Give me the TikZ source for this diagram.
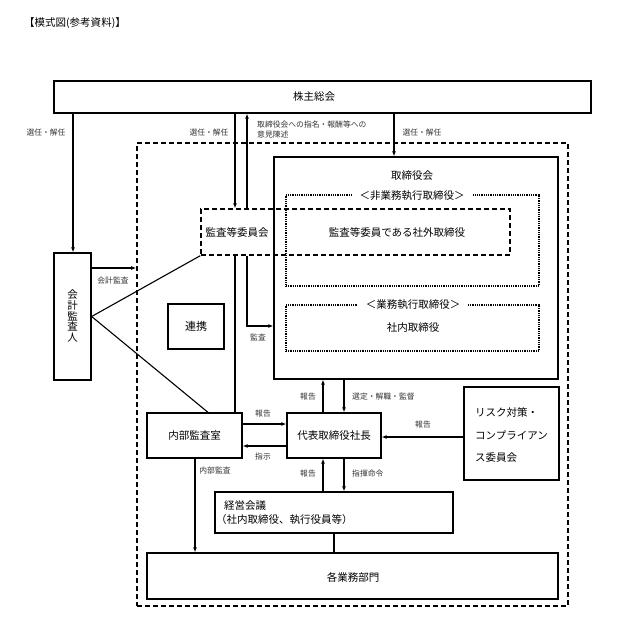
\documentclass[tikz,border=0pt]{standalone}
\usepackage{fontspec}
\setmainfont{Noto Sans CJK JP}
\usetikzlibrary{arrows.meta,calc}
\begin{document}
\begin{tikzpicture}[x=1pt,y=-1pt,
  box/.style={draw,line width=1.3pt,inner sep=0pt},
  txt/.style={inner sep=0pt,font=\fontsize{10.5}{12}\selectfont},
  lbl/.style={inner sep=0pt,font=\fontsize{7.8}{9.5}\selectfont,text=black!80},
  ln/.style={line width=1.1pt},
  arr/.style={line width=1.1pt,-{Latex[length=5pt,width=4pt]}},
  bigdash/.style={draw,line width=1.7pt,dash pattern=on 5pt off 3pt,inner sep=0pt},
  meddash/.style={draw,line width=1.4pt,dash pattern=on 5pt off 3pt,inner sep=0pt},
  dotbox/.style={draw,line width=1.2pt,dash pattern=on 1pt off 0.8pt,inner sep=0pt},
]
\useasboundingbox (0,0) rectangle (617,639);
\fill[white] (0,0) rectangle (617,639);

\node[txt,anchor=west] (title) at (24,23) {【模式図(参考資料)】};

% boxes
\node[box,minimum width=537pt,minimum height=32pt] (sh) at (322.5,97) {};
\node[txt] (shT) at (314,97) {株主総会};

\node[box,minimum width=37pt,minimum height=127pt] (aud) at (72.5,316.5) {};
\node[txt,align=center,font=\fontsize{10.5}{10.8}\selectfont] (audT) at (72.5,316) {会\\計\\監\\査\\人};

\node[bigdash,minimum width=431pt,minimum height=463pt] (grp) at (352.5,374.5) {};

\node[box,minimum width=284pt,minimum height=222pt] (board) at (416,268) {};
\node[txt] (boardT) at (412,176) {取締役会};

\node[dotbox,minimum width=253pt,minimum height=91pt] (nonexec) at (412.5,240.5) {};
\node[txt,fill=white,inner xsep=8pt,inner ysep=1pt] (nonexecT) at (412,196) {＜非業務執行取締役＞};

\node[dotbox,minimum width=253pt,minimum height=46pt] (exec) at (412.5,328) {};
\node[txt,fill=white,inner xsep=8pt,inner ysep=1pt] (execT) at (413,305) {＜業務執行取締役＞};
\node[txt] (execIn) at (413,328) {社内取締役};

\node[meddash,minimum width=309pt,minimum height=46pt] (audcom) at (355.5,232) {};
\node[txt] (audcomT) at (237,232) {監査等委員会};
\node[txt] (outdir) at (397,232) {監査等委員である社外取締役};

\node[box,minimum width=56pt,minimum height=45pt] (renkei) at (196,326.5) {};
\node[txt,font=\fontsize{11}{12}\selectfont] (renkeiT) at (196,326.5) {連携};

\node[box,minimum width=95pt,minimum height=45pt] (internal) at (194.5,435.5) {};
\node[txt] (internalT) at (194.5,435.5) {内部監査室};

\node[box,minimum width=94pt,minimum height=45pt] (ceo) at (334,435.5) {};
\node[txt] (ceoT) at (334,435.5) {代表取締役社長};

\node[box,minimum width=95pt,minimum height=93pt] (risk) at (511.5,433.5) {};
\node[txt,anchor=west] (riskA) at (475,412) {リスク対策・};
\node[txt,anchor=west] (riskB) at (475,435) {コンプライアン};
\node[txt,anchor=west] (riskC) at (475,458) {ス委員会};

\node[box,minimum width=238pt,minimum height=41pt] (mgmt) at (334,512.5) {};
\node[txt,anchor=west] (mgmtA) at (224,506) {経営会議};
\node[txt,anchor=west] (mgmtB) at (216,520) {（社内取締役、執行役員等）};

\node[box,minimum width=411pt,minimum height=46pt] (depts) at (352.5,576) {};
\node[txt] (deptsT) at (353,577) {各業務部門};

% connectors
\draw[arr] (sh.south -| 73,0) -- (aud.north -| 73,0);
\node[lbl] (l1) at (46,133) {選任・解任};

\draw[arr] (sh.south -| 235,0) -- (audcom.north -| 235,0);
\node[lbl] (l2) at (209,133) {選任・解任};

\draw[arr] (audcom.north -| 247,0) -- (sh.south -| 247,0);
\node[lbl,anchor=north west,align=left] (l3) at (257,121) {取締役会への指名・報酬等への\\意見陳述};

\draw[arr] (sh.south -| 394,0) -- (board.north -| 394,0);
\node[lbl] (l4) at (422,133) {選任・解任};

\draw[arr] (aud.east |- 0,268) -- (grp.west |- 0,268);
\node[lbl] (l5) at (113,281) {会計監査};

\draw[ln] (aud.east) -- (audcom.south west);
\draw[ln] (aud.east) -- (internal.north -| 208,0);

\draw[ln] (audcom.south -| 235,0) -- (internal.north -| 235,0);

\draw[arr] (audcom.south -| 247,0) -- (247,326) -- (board.west |- 0,326);
\node[lbl] (l6) at (258,337) {監査};

\draw[arr] (ceo.north -| 323,0) -- (board.south -| 323,0);
\node[lbl] (l7) at (308,397) {報告};
\draw[arr] (board.south -| 344,0) -- (ceo.north -| 344,0);
\node[lbl,anchor=west] (l8) at (352,397) {選定・解職・監督};

\draw[arr] (internal.east |- 0,424) -- (ceo.west |- 0,424);
\node[lbl] (l9) at (263,414) {報告};
\draw[arr] (ceo.west |- 0,446) -- (internal.east |- 0,446);
\node[lbl] (l10) at (263,457) {指示};

\draw[arr] (risk.west |- 0,437) -- (ceo.east |- 0,437);
\node[lbl] (l11) at (423,425) {報告};

\draw[arr] (internal.south -| 195,0) -- (depts.north -| 195,0);
\node[lbl] (l12) at (215,471) {内部監査};

\draw[arr] (mgmt.north -| 323,0) -- (ceo.south -| 323,0);
\node[lbl] (l13) at (308,474) {報告};
\draw[arr] (ceo.south -| 344,0) -- (mgmt.north -| 344,0);
\node[lbl,anchor=west] (l14) at (352,474) {指揮命令};

\draw[ln] (mgmt.south) -- (depts.north -| mgmt.south);
\end{tikzpicture}
\end{document}
